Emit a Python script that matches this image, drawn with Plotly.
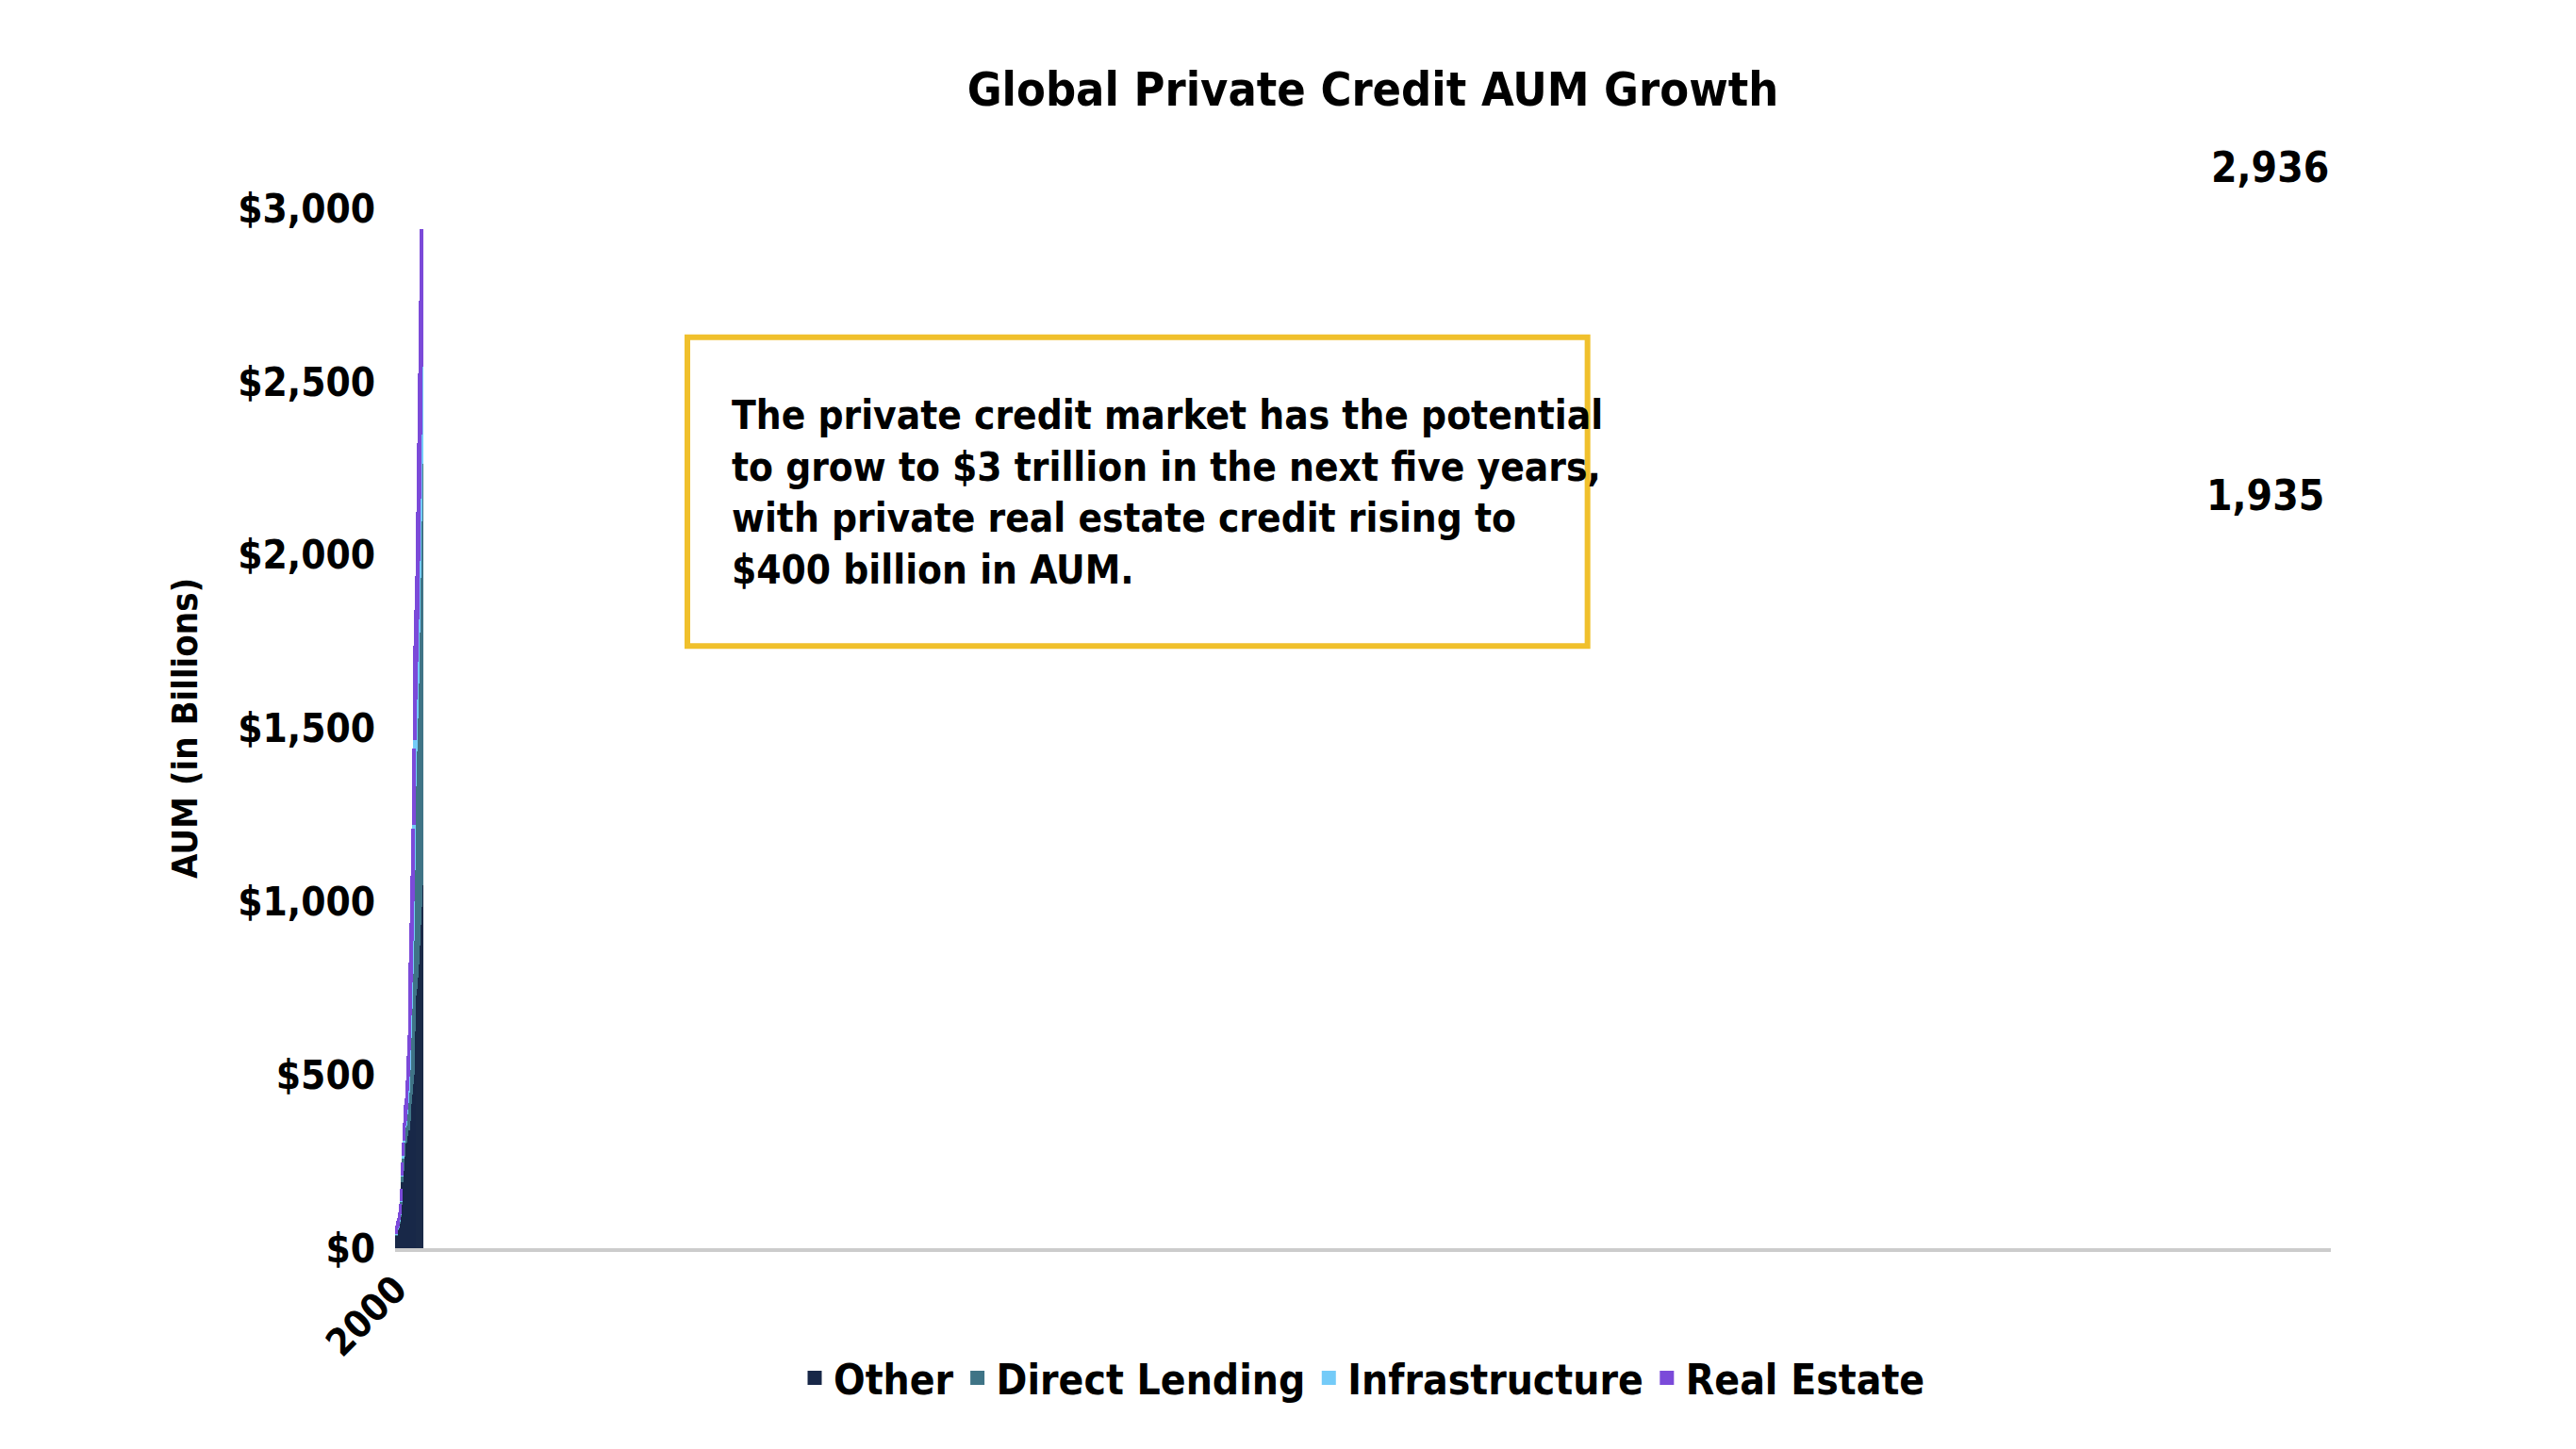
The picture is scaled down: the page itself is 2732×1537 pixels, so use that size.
import plotly.graph_objects as go

years = [str(y) for y in range(2000, 2029)]
other = [40, 40, 55, 62, 75, 95, 130, 195, 228, 267, 305, 310, 329, 352, 343, 371, 419, 448, 476, 505, 629, 733, 752, 786, 824, 876, 938, 990, 1052]
direct = [3, 3, 3, 3, 5, 5, 8, 15, 34, 43, 47, 47, 61, 72, 109, 148, 191, 247, 319, 385, 466, 605, 686, 747, 809, 905, 1000, 1110, 1215]
infra = [2, 2, 2, 2, 5, 3, 3, 3, 8, 4, 5, 14, 15, 33, 48, 57, 66, 76, 95, 115, 129, 133, 148, 162, 186, 205, 229, 252, 281]
real_estate = [15, 15, 15, 15, 15, 20, 25, 30, 30, 43, 53, 58, 76, 95, 110, 114, 143, 162, 181, 200, 214, 262, 252, 240, 300, 333, 352, 377, 388]
y_ticks = [0, 500, 1000, 1500, 2000, 2500, 3000]
y_labels = ["$0", "$500", "$1,000", "$1,500", "$2,000", "$2,500", "$3,000"]
n_actual = 24  # 2000-2023 actual, 2024-2028 forecast

series = [
    ("Other", other, "#182848", "#c8ccd6", "#1a2a48"),
    ("Direct Lending", direct, "#3f7486", "#cfdde3", "#3f7486"),
    ("Infrastructure", infra, "#74cbf8", "#dcf2fd", "#74cbf8"),
    ("Real Estate", real_estate, "#7b4ad9", "#ddd3f3", "#7b4ad9"),
]

font = "DejaVu Sans Condensed, Liberation Sans Narrow, sans-serif"

fig = go.Figure()
for name, vals, col, light, edge in series:
    fills = [col] * n_actual + [light] * (len(years) - n_actual)
    edges = [col] * n_actual + [edge] * (len(years) - n_actual)
    fig.add_trace(go.Bar(x=years, y=vals, name=name,
                         marker=dict(color=fills, line=dict(color=edges, width=3))))

fig.update_layout(
    barmode="stack", bargap=0.38,
    width=2732, height=1537,
    paper_bgcolor="white", plot_bgcolor="white",
    margin=dict(l=411, r=268, t=213, b=221),
    font=dict(family=font, color="black", size=40),
    title=dict(text="<b>Global Private Credit AUM Growth</b>", x=0.53, xanchor="center",
               y=0.955, font=dict(size=50)),
    legend=dict(orientation="h", x=0.5, xanchor="center", y=-0.125, yanchor="middle",
                font=dict(size=44, weight="bold"), traceorder="normal"),
    yaxis=dict(range=[0, 3000], tickvals=y_ticks, ticktext=y_labels,
               showgrid=False, zeroline=False,
               tickfont=dict(size=42, weight="bold"), ticklabelstandoff=20,
               title=dict(text="<b>AUM (in Billions)</b>", font=dict(size=38),
                          standoff=30)),
    xaxis=dict(type="category", tickangle=-45, showline=True, linecolor="#cccccc", linewidth=4,
               tickfont=dict(size=40, weight="bold")),
)

totals = [a + b + c + d for a, b, c, d in zip(other, direct, infra, real_estate)]
fig.add_annotation(x="2023", y=totals[23], text="<b>1,935</b>", showarrow=False,
                   yanchor="bottom", yshift=60, xshift=-15, font=dict(size=44))
fig.add_annotation(x="2028", y=totals[28], text="<b>2,936</b>", showarrow=False,
                   yanchor="bottom", yshift=40, xshift=-15, font=dict(size=44))

fig.add_shape(type="rect", xref="paper", yref="paper", x0=0.151, x1=0.616, y0=0.579, y1=0.876,
              line=dict(color="#f0c02c", width=6), fillcolor="white")
fig.add_annotation(xref="paper", yref="paper", x=0.173, y=0.727, xanchor="left", yanchor="middle",
                   align="left", showarrow=False, font=dict(size=42),
                   text="<b>The private credit market has the potential<br>to grow to $3 trillion in the next five years,<br>"
                        "with private real estate credit rising to<br>$400 billion in AUM.</b>")

fig.write_html("out.html")
